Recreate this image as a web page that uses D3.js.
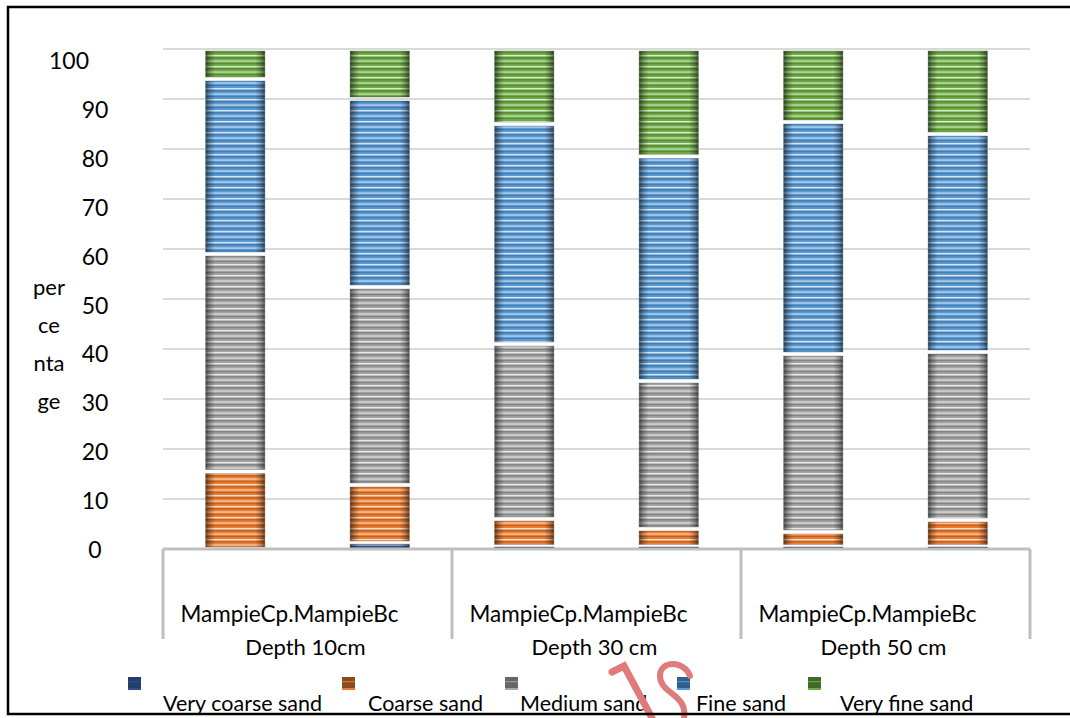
<!DOCTYPE html>
<html>
<head>
<meta charset="utf-8">
<script src="https://cdn.jsdelivr.net/npm/d3@7"></script>
<style>
  html, body { margin: 0; padding: 0; background: #fff; }
  svg { display: block; font-family: Lato, "Open Sans", sans-serif; }
</style>
</head>
<body>
<svg id="chart" width="1070" height="718"></svg>
<script>
// Soil texture fractions (%) for two profiles at three depths
const samples = ["Cp 10", "Bc 10", "Cp 30", "Bc 30", "Cp 50", "Bc 50"];
const groupLabels = ["MampieCp.MampieBc", "MampieCp.MampieBc", "MampieCp.MampieBc"];
const depthLabels = ["Depth 10cm", "Depth 30 cm", "Depth 50 cm"];

const veryCoarseSand = [0, 1.2, 0.5, 0.5, 0.5, 0.5];
const coarseSand     = [15.5, 11.6, 5.5, 3.5, 2.9, 5.3];
const mediumSand     = [43.5, 39.6, 35, 29.6, 35.6, 33.6];
const fineSand       = [35, 37.6, 44, 44.9, 46.4, 43.6];
const veryFineSand   = [6, 10, 15, 21.5, 14.6, 17];

const seriesNames = ["Very coarse sand", "Coarse sand", "Medium sand", "Fine sand", "Very fine sand"];
const seriesValues = [veryCoarseSand, coarseSand, mediumSand, fineSand, veryFineSand];
const seriesColors = ["#2e4f88", "#ed7d31", "#a5a5a5", "#5b9bd5", "#70ad47"];
const seriesDark   = ["#243f6e", "#8a4a1f", "#666666", "#2f5f8c", "#3f6b27"];

const yTicks = [0, 10, 20, 30, 40, 50, 60, 70, 80, 90, 100];

const svg = d3.select("#chart");
const defs = svg.append("defs");

const plot = { left: 163, right: 1030, top: 49, bottom: 549 };

const x = d3.scaleBand()
  .domain(samples)
  .range([plot.left, plot.right])
  .paddingInner(0.59)
  .paddingOuter(0.295);

const y = d3.scaleLinear().domain([0, 100]).range([plot.bottom, plot.top]);
// tick labels sit on a slightly tighter spacing than the gridlines
const yLabel = d3.scaleLinear().domain([0, 100]).range([550, 61]);

// striped fill per series
seriesColors.forEach((c, i) => {
  const light = d3.interpolateRgb(c, "#ffffff")(0.75);
  const dark = d3.interpolateRgb(c, "#000000")(0.25);
  const p = defs.append("pattern")
    .attr("id", "stripe" + i)
    .attr("patternUnits", "userSpaceOnUse")
    .attr("width", 8).attr("height", 11);
  p.append("rect").attr("width", 8).attr("height", 11).attr("fill", c);
  p.append("rect").attr("y", 0).attr("width", 8).attr("height", 1.4).attr("fill", light);
  p.append("rect").attr("y", 2.2).attr("width", 8).attr("height", 1.2).attr("fill", dark);
  p.append("rect").attr("y", 5.4).attr("width", 8).attr("height", 1.3).attr("fill", light).attr("opacity", 0.8);
  p.append("rect").attr("y", 8).attr("width", 8).attr("height", 1.2).attr("fill", dark).attr("opacity", 0.8);
});

// darkened vertical edges on each segment
const edge = defs.append("linearGradient").attr("id", "edgeShade")
  .attr("x1", "0%").attr("x2", "100%").attr("y1", "0%").attr("y2", "0%");
[[0, 0.55], [0.07, 0.25], [0.16, 0], [0.84, 0], [0.93, 0.25], [1, 0.55]].forEach(([o, a]) => {
  edge.append("stop").attr("offset", (o * 100) + "%").attr("stop-color", "#000").attr("stop-opacity", a);
});

// gridlines
svg.append("g")
  .selectAll("line")
  .data(yTicks.filter(d => d > 0))
  .join("line")
  .attr("x1", plot.left).attr("x2", plot.right)
  .attr("y1", d => y(d)).attr("y2", d => y(d))
  .attr("stroke", "#d9d9d9").attr("stroke-width", 2);

// stacked segments
const stackData = samples.map((s, i) => {
  const o = { sample: s };
  seriesNames.forEach((n, k) => { o[n] = seriesValues[k][i]; });
  return o;
});
const stacked = d3.stack().keys(seriesNames)(stackData);

const segG = svg.append("g");
stacked.forEach((layer, k) => {
  layer.forEach(d => {
    const y0 = y(d[0]), y1 = y(d[1]);
    const h = y0 - y1;
    if (h <= 0) return;
    const inset = Math.min(2, h * 0.2);
    const bx = x(d.data.sample), bw = x.bandwidth();
    const g = segG.append("g");
    g.append("rect")
      .attr("x", bx).attr("y", y1 + inset)
      .attr("width", bw).attr("height", h - 2 * inset)
      .attr("fill", "url(#stripe" + k + ")");
    g.append("rect")
      .attr("x", bx).attr("y", y1 + inset)
      .attr("width", bw).attr("height", h - 2 * inset)
      .attr("fill", "url(#edgeShade)");
    g.append("rect")
      .attr("x", bx).attr("y", y1 + inset)
      .attr("width", bw).attr("height", h - 2 * inset)
      .attr("fill", "none").attr("stroke", seriesDark[k]).attr("stroke-opacity", 0.35).attr("stroke-width", 1);
  });
});

// category axis with two label rows
const axisG = svg.append("g");
axisG.append("line")
  .attr("x1", plot.left).attr("x2", plot.right)
  .attr("y1", plot.bottom).attr("y2", plot.bottom)
  .attr("stroke", "#bfbfbf").attr("stroke-width", 3);

const groupW = (plot.right - plot.left) / depthLabels.length;
const dividers = d3.range(depthLabels.length + 1).map(i => plot.left + i * groupW);
axisG.selectAll("line.div")
  .data(dividers)
  .join("line")
  .attr("class", "div")
  .attr("x1", d => d).attr("x2", d => d)
  .attr("y1", plot.bottom).attr("y2", 639)
  .attr("stroke", "#bfbfbf").attr("stroke-width", 3);

axisG.selectAll("text.grp")
  .data(groupLabels)
  .join("text")
  .attr("class", "grp")
  .attr("x", (d, i) => plot.left + i * groupW + groupW / 2 - 18)
  .attr("y", 622)
  .attr("text-anchor", "middle")
  .attr("font-size", 22.5)
  .attr("fill", "#000")
  .text(d => d);

axisG.selectAll("text.depth")
  .data(depthLabels)
  .join("text")
  .attr("class", "depth")
  .attr("x", (d, i) => plot.left + i * groupW + groupW / 2 - 2)
  .attr("y", 655)
  .attr("text-anchor", "middle")
  .attr("font-size", 22)
  .attr("fill", "#000")
  .text(d => d);

// value axis labels
svg.append("g")
  .selectAll("text")
  .data(yTicks)
  .join("text")
  .attr("x", d => d === 100 ? 69 : 95)
  .attr("y", d => yLabel(d) + 8)
  .attr("text-anchor", "middle")
  .attr("font-size", 23)
  .attr("fill", "#000")
  .text(d => d);

// axis title, wrapped into short pieces
const titleParts = ["per", "ce", "nta", "ge"];
svg.append("g")
  .selectAll("text")
  .data(titleParts)
  .join("text")
  .attr("x", 49)
  .attr("y", (d, i) => 295 + i * 38)
  .attr("text-anchor", "middle")
  .attr("font-size", 22)
  .attr("fill", "#000")
  .text(d => d);

// legend
const legendSymX = [128, 342, 505, 677, 808];
const legendTextX = [163, 368, 520, 696, 840];
const leg = svg.append("g");
seriesNames.forEach((n, k) => {
  const sx = legendSymX[k];
  leg.append("rect").attr("x", sx).attr("y", 677).attr("width", 13).attr("height", 11)
    .attr("fill", seriesDark[k]);
  leg.append("rect").attr("x", sx).attr("y", 681).attr("width", 13).attr("height", 1.3)
    .attr("fill", seriesColors[k]).attr("opacity", 0.8);
  leg.append("rect").attr("x", sx).attr("y", 688).attr("width", 13).attr("height", 2)
    .attr("fill", seriesColors[k]);
  leg.append("text")
    .attr("x", legendTextX[k]).attr("y", 711)
    .attr("font-size", 21.5).attr("fill", "#000")
    .text(n);
});

// red stamp mark over the legend
const stamp = svg.append("g").attr("fill", "none").attr("stroke", "#e07b7b").attr("stroke-linecap", "round");
stamp.append("path").attr("d", "M612 672 L624 666 L652 718").attr("stroke-width", 7);
stamp.append("path").attr("d", "M690 676 C684 660 660 660 660 676 C660 694 688 694 684 718").attr("stroke-width", 6);

// outer frame
svg.append("rect")
  .attr("x", 8).attr("y", 7).attr("width", 1080).attr("height", 707)
  .attr("fill", "none").attr("stroke", "#000").attr("stroke-width", 2.5);
</script>
</body>
</html>
